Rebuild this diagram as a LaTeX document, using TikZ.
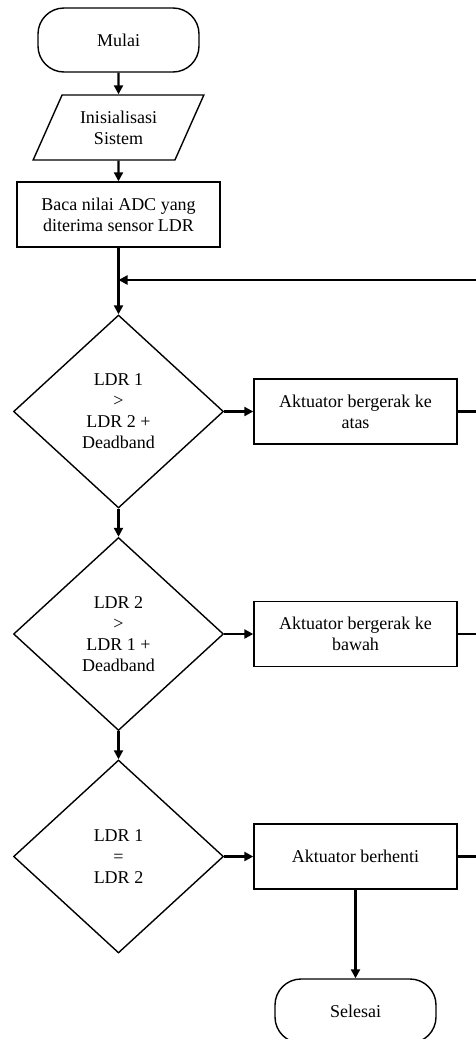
\documentclass[tikz,border=0pt]{standalone}
\usepackage{fontspec}
\setmainfont{Liberation Serif}
\usepackage{tikz}
\usetikzlibrary{shapes.geometric, arrows.meta, calc}
\tikzstyle{terminal} = [rectangle, rounded corners=26pt, minimum width=161pt, minimum height=64pt, text centered, draw=black, line width=1.4pt]
\tikzstyle{io} = [trapezium, trapezium left angle=62, trapezium right angle=118, trapezium stretches=true, minimum width=171pt, minimum height=65pt, align=center, draw=black, line width=1.4pt]
\tikzstyle{process} = [rectangle, minimum width=203pt, minimum height=65pt, align=center, draw=black, line width=1.4pt]
\tikzstyle{decision} = [diamond, minimum width=210pt, minimum height=193pt, inner sep=0pt, align=center, draw=black, line width=1.4pt]
\tikzstyle{arrow} = [line width=2.2pt,-{Triangle[length=9pt,width=9pt]}]
\tikzstyle{line} = [line width=2.2pt]

\begin{document}
\begin{tikzpicture}[x=1pt, y=-1pt, font=\fontsize{18}{21}\selectfont]
        \useasboundingbox (0,0) rectangle (476,1039);
        \node (mulai) [terminal] at (118.5,40) {Mulai};
        \node (init) [io] at (118.5,127.5) {Inisialisasi\\Sistem};
        \node (baca) [process] at (118.5,214.5) {Baca nilai ADC yang\\diterima sensor LDR};
        \coordinate (j) at (118.5,280);
        \coordinate (rtop) at (485,280);
        \node (d1) [decision] at (118.5,411.5) {LDR 1\\>\\LDR 2 +\\Deadband};
        \node (atas) [process] at (355.5,411.5) {Aktuator bergerak ke\\atas};
        \node (d2) [decision] at (118.5,634) {LDR 2\\>\\LDR 1 +\\Deadband};
        \node (bawah) [process] at (355.5,634) {Aktuator bergerak ke\\bawah};
        \node (d3) [decision] at (118.5,856.5) {LDR 1\\=\\LDR 2};
        \node (henti) [process] at (355.5,856.5) {Aktuator berhenti};
        \node (selesai) [terminal] at (355.5,1011) {Selesai};

        \draw [arrow] (mulai) -- (init);
        \draw [arrow] (init) -- (baca);
        \draw [arrow] (baca) -- (d1);
        \draw [arrow] (d1) -- (atas);
        \draw [arrow] (d1) -- (d2);
        \draw [arrow] (d2) -- (bawah);
        \draw [arrow] (d2) -- (d3);
        \draw [arrow] (d3) -- (henti);
        \draw [arrow] (henti) -- (selesai);
        % loop back to the top
        \draw [arrow] (henti.east) -| (rtop) -- (j);
        \draw [line] (atas.east) -- (atas.east -| rtop);
        \draw [line] (bawah.east) -- (bawah.east -| rtop);
    \end{tikzpicture}
\end{document}
